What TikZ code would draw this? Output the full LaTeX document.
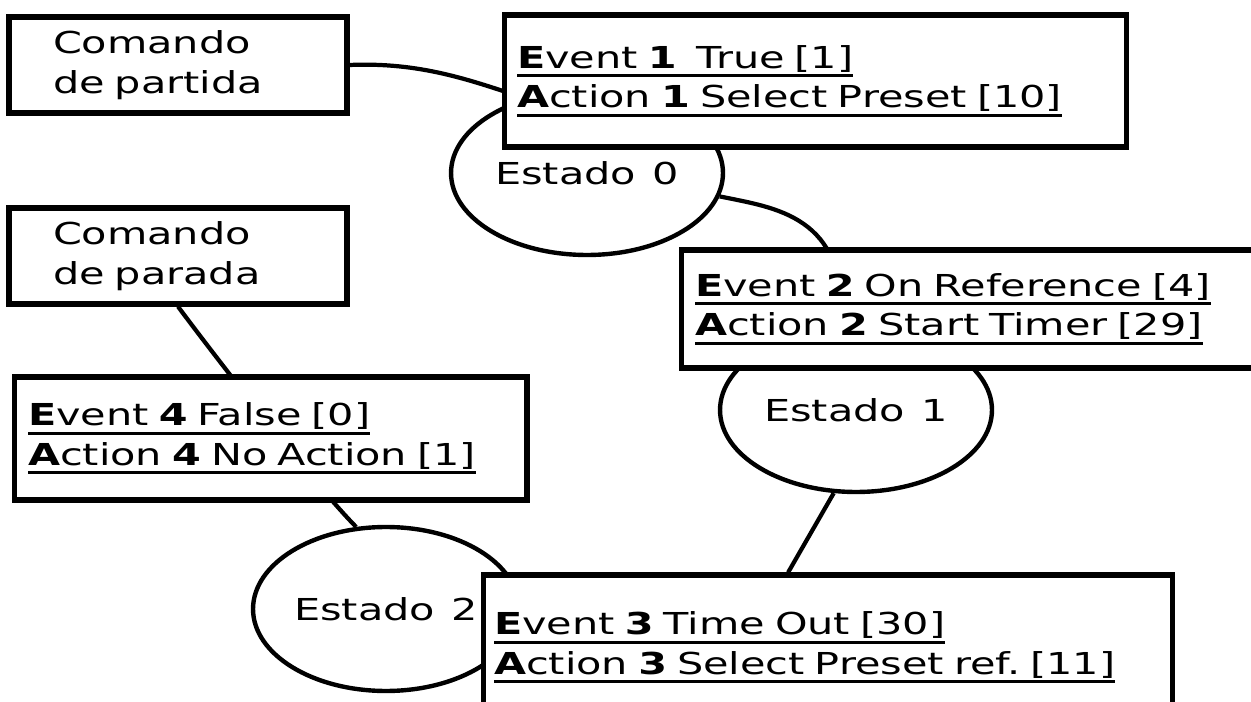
\documentclass[tikz,border=0pt]{standalone}
\usepackage{fontspec}
\setmainfont{DejaVu Sans}[FakeStretch=1.37,WordSpace=1.25]
\usetikzlibrary{shapes.geometric,backgrounds}
\newcommand{\evul}[1]{\leavevmode\setbox0=\hbox{#1}\rlap{\copy0}\rule[-0.18cm]{\wd0}{0.06cm}}
\tikzset{
  txt/.style={font=\fontsize{17.2pt}{22.6pt}\selectfont\frenchspacing},
  cmdbox/.style={txt,draw,line width=2.9pt,fill=white,align=left,text width=5cm,inner xsep=0.88cm,inner ysep=0pt,minimum height=1.92cm},
  evbox/.style={txt,draw,line width=2.9pt,fill=white,align=left,inner ysep=0pt},
  state/.style={txt,ellipse,draw,line width=2.5pt,inner sep=0pt,minimum width=5.44cm,minimum height=3.28cm},
  wire/.style={line width=2.4pt}
}
\begin{document}
\begin{tikzpicture}[x=0.02cm,y=-0.02cm]
        \path[use as bounding box,clip] (0,0) rectangle (1251,702);
        \node[state] (e0) at (587,173) {Estado 0};
        \node[state] (e1) at (856,410) {Estado 1};
        \node[state,minimum width=5.32cm] (e2) at (386,609) {Estado 2};
        \node[cmdbox] (cp) at (178,65) {Comando\\de partida};
        \node[cmdbox] (cs) at (178,256) {Comando\\de parada};
        \node[evbox,text width=11.94cm,inner xsep=0.26cm,minimum height=2.64cm] (ev1) at (815.5,81)
          {\evul{\textbf{E}vent \textbf{1}~ True [1]}\\\evul{\textbf{A}ction \textbf{1} Select Preset [10]}};
        \node[evbox,text width=11.32cm,inner xsep=0.28cm,minimum height=2.36cm] (ev2) at (978,309)
          {\evul{\textbf{E}vent \textbf{2} On Reference [4]}\\\evul{\textbf{A}ction \textbf{2} Start Timer [29]}};
        \node[evbox,text width=13.36cm,inner xsep=0.22cm,minimum height=2.9cm] (ev3) at (828,647.5)
          {\evul{\textbf{E}vent \textbf{3} Time Out [30]}\\\evul{\textbf{A}ction \textbf{3} Select Preset ref. [11]}};
        \node[evbox,text width=9.7cm,inner xsep=0.28cm,minimum height=2.46cm] (ev4) at (270.5,438.5)
          {\evul{\textbf{E}vent \textbf{4} False [0]}\\\evul{\textbf{A}ction \textbf{4} No Action [1]}};
        \begin{scope}[on background layer]
          \draw[wire] (cp.east) .. controls (420,62) and (470,80) .. (e0.130);
          \draw[wire] (e0.-10) .. controls (775,208) and (848,215) .. (e1.100);
          \draw[wire] (e1.-105) -- (ev3.118);
          \draw[wire] (cs.south) .. controls (205,343) and (310,480) .. (e2.110);
        \end{scope}
      \end{tikzpicture}
\end{document}
